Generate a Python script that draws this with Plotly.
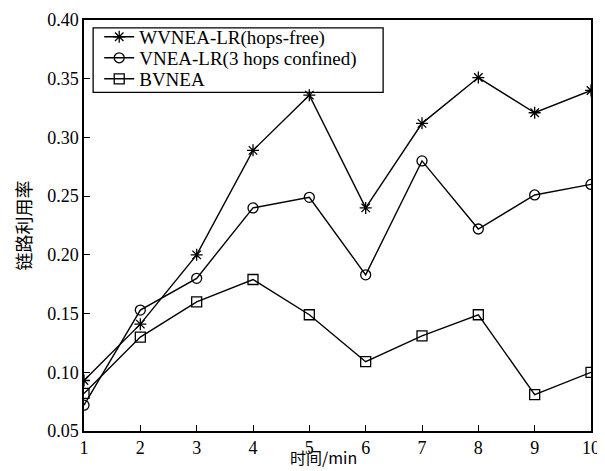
import plotly.graph_objects as go

x_min = [1, 2, 3, 4, 5, 6, 7, 8, 9, 10]
wvnea_lr = [0.093, 0.141, 0.200, 0.289, 0.336, 0.240, 0.312, 0.351, 0.321, 0.340]
vnea_lr = [0.072, 0.153, 0.180, 0.240, 0.249, 0.183, 0.280, 0.222, 0.251, 0.260]
bvnea = [0.082, 0.130, 0.160, 0.179, 0.149, 0.109, 0.131, 0.149, 0.081, 0.100]
names = ["WVNEA-LR(hops-free)", "VNEA-LR(3 hops confined)", "BVNEA"]
y_ticks = [0.05, 0.10, 0.15, 0.20, 0.25, 0.30, 0.35, 0.40]

serif = "Liberation Serif, Times New Roman, serif"
cjk = "Noto Sans CJK SC"

fig = go.Figure()
series = [(wvnea_lr, "asterisk-open"), (vnea_lr, "circle-open"), (bvnea, "square-open")]
legend_ids = ["legend", "legend2", "legend3"]
for (vals, sym), nm, lg in zip(series, names, legend_ids):
    fig.add_trace(go.Scatter(
        x=x_min, y=vals, name=nm, mode="lines+markers", legend=lg,
        line=dict(color="black", width=1.4),
        marker=dict(symbol=sym, size=10, color="black", line=dict(color="black", width=1.3)),
    ))

legend_rows_y = [0.9587, 0.9077, 0.8566]
legend_common = dict(
    x=0.03, xanchor="left", yanchor="middle",
    bgcolor="rgba(0,0,0,0)", borderwidth=0,
    font=dict(family=serif, size=19, color="black"),
    itemwidth=30,
)

# page body has an 8px margin, so the figure is sized to fit the 605x471 window
fig.update_layout(
    width=597, height=463,
    margin=dict(l=76, r=14, t=12, b=40, autoexpand=False),
    paper_bgcolor="white", plot_bgcolor="white",
    font=dict(family=serif, size=18, color="black"),
    showlegend=True,
    legend=dict(y=legend_rows_y[0], **legend_common),
    legend2=dict(y=legend_rows_y[1], **legend_common),
    legend3=dict(y=legend_rows_y[2], **legend_common),
    shapes=[dict(
        type="rect", xref="paper", yref="paper",
        x0=0.018, x1=0.590, y0=0.824, y1=0.981,
        line=dict(color="black", width=1.3), fillcolor="rgba(0,0,0,0)", layer="above",
    )],
    annotations=[dict(
        text="时间/min", xref="paper", yref="paper", x=0.473, y=-0.097,
        xanchor="center", yanchor="bottom", showarrow=False,
        font=dict(family=cjk, size=16, color="black"),
    )],
)
fig.update_xaxes(
    range=[1, 10], tickvals=x_min, ticktext=[str(v) for v in x_min],
    ticks="inside", ticklen=6, tickcolor="black", tickwidth=1.2,
    showline=True, linecolor="black", linewidth=1.5, mirror=True,
    showgrid=False, zeroline=False, automargin=False,
    tickfont=dict(family=serif, size=18),
)
fig.update_yaxes(
    range=[0.05, 0.40], tickvals=y_ticks, ticktext=[f"{v:.2f}" for v in y_ticks],
    ticks="inside", ticklen=6, tickcolor="black", tickwidth=1.2,
    showline=True, linecolor="black", linewidth=1.5, mirror=True,
    showgrid=False, zeroline=False, automargin=False,
    tickfont=dict(family=serif, size=18),
    title=dict(text="链路利用率", font=dict(family=cjk, size=18), standoff=11),
)

fig.write_html("out.html")
